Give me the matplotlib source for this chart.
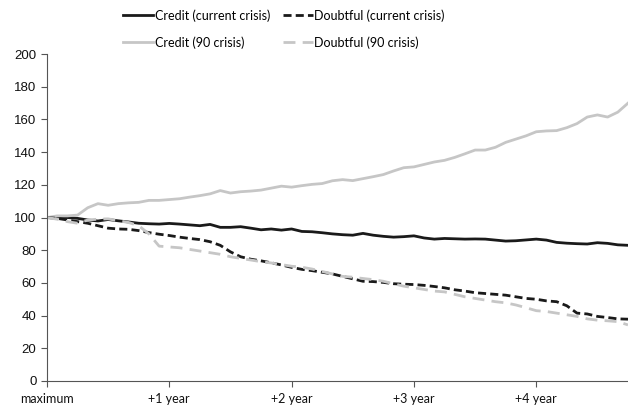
import numpy as np
import matplotlib
matplotlib.use("Agg")
import matplotlib.pyplot as plt


# monthly index, 0 = maximum
months = np.arange(58)

credit_current = [100, 100, 100, 99.5, 98.5, 97.9, 98.8, 98, 97.3, 96.5,
                  96.2, 96, 96.4, 96, 95.5, 95, 95.8, 94, 94, 94.4,
                  93.5, 92.5, 93, 92.3, 93, 91.5, 91.3, 90.7, 90, 89.5,
                  89.2, 90.3, 89.2, 88.5, 88, 88.3, 88.8, 87.5, 86.8, 87.2,
                  87, 86.8, 86.9, 86.8, 86.2, 85.6, 85.8, 86.3, 86.8, 86.2,
                  84.8, 84.3, 84, 83.8, 84.6, 84.2, 83.3, 83]

doubtful_current = [100, 99.5, 98.5, 97.5, 96.5, 95, 93.5, 93, 92.8, 92,
                    90.8, 89.8, 89, 88, 87.2, 86.5, 85.2, 83, 79, 76,
                    74.5, 73.5, 72.3, 71, 69.5, 68.3, 67.5, 66.5, 65.5, 64,
                    62.5, 61, 60.8, 60.3, 59.5, 59.2, 59, 58.5, 57.8, 57,
                    55.8, 55, 54, 53.5, 53, 52.5, 51.5, 50.5, 50, 49,
                    48.5, 46, 41.5, 41, 39.5, 38.8, 38, 37.8]

credit_90 = [100, 101, 101, 101.5, 106, 108.5, 107.5, 108.5, 109, 109.3,
             110.5, 110.5, 111, 111.5, 112.5, 113.4, 114.5, 116.5, 115, 115.8,
             116.2, 116.8, 118, 119.2, 118.6, 119.5, 120.3, 120.8, 122.5, 123.2,
             122.6, 123.8, 125, 126.3, 128.5, 130.5, 131, 132.5, 134, 135,
             136.8, 139, 141.3, 141.3, 143, 146, 148, 150, 152.5, 153,
             153.2, 155, 157.5, 161.5, 162.8, 161.5, 164.5, 170]

doubtful_90 = [100, 99, 97.5, 96.5, 98.5, 99, 99.2, 98, 97, 95,
               90, 82.5, 82, 81.5, 80.5, 79.5, 78.5, 77.5, 76, 75,
               74, 73, 72.2, 71.2, 70.2, 69.6, 68.5, 67, 65.5, 64,
               63.5, 62.7, 62, 61, 59.5, 58, 57, 56, 55, 54.5,
               53, 51.5, 50.5, 49.5, 48.5, 47.8, 46.5, 44.8, 43, 42.5,
               41.5, 40.5, 39.5, 38, 37.2, 36.8, 36.3, 34.3]

x_ticks = [0, 12, 24, 36, 48]
x_labels = ['maximum', '+1 year', '+2 year', '+3 year', '+4 year']

BLACK = '#1a1a1a'
GREY = '#c6c6c6'
axis_col = '#555555'

fig = plt.figure(figsize=(6.28, 4.07), dpi=100)
ax = fig.add_axes([0.0748, 0.064, 0.9252, 0.803])

l1, = ax.plot(months, credit_current, color=BLACK, lw=2.0, label='Credit (current crisis)')
l2, = ax.plot(months, credit_90, color=GREY, lw=2.0, label='Credit (90 crisis)')
l3, = ax.plot(months, doubtful_current, color=BLACK, lw=2.0, dashes=(2.9, 1.5),
              label='Doubtful (current crisis)')
l4, = ax.plot(months, doubtful_90, color=GREY, lw=2.0, dashes=(4.3, 2.6),
              label='Doubtful (90 crisis)')

ax.set_xlim(0, 57)
ax.set_ylim(0, 200)
ax.set_yticks(range(0, 201, 20))
ax.set_xticks(x_ticks)
ax.set_xticklabels(x_labels, fontfamily='Lato', fontsize=9)
for t in ax.get_yticklabels():
    t.set_fontfamily('Liberation Sans')
    t.set_fontsize(9.5)

ax.spines['top'].set_visible(False)
ax.spines['right'].set_visible(False)
ax.spines['left'].set_color(axis_col)
ax.spines['bottom'].set_color(axis_col)
ax.tick_params(axis='both', colors=axis_col, labelcolor='#111111', length=4, width=0.8)
ax.tick_params(axis='x', pad=5)

fig.legend(handles=[l1, l2, l3, l4], loc='upper center', bbox_to_anchor=(0.452, 1.005),
           ncol=2, frameon=False, prop={'family': 'Lato', 'size': 9},
           handlelength=2.4, handletextpad=0.15, columnspacing=1.0,
           labelspacing=1.15)

fig.savefig('out.png', dpi=100)
